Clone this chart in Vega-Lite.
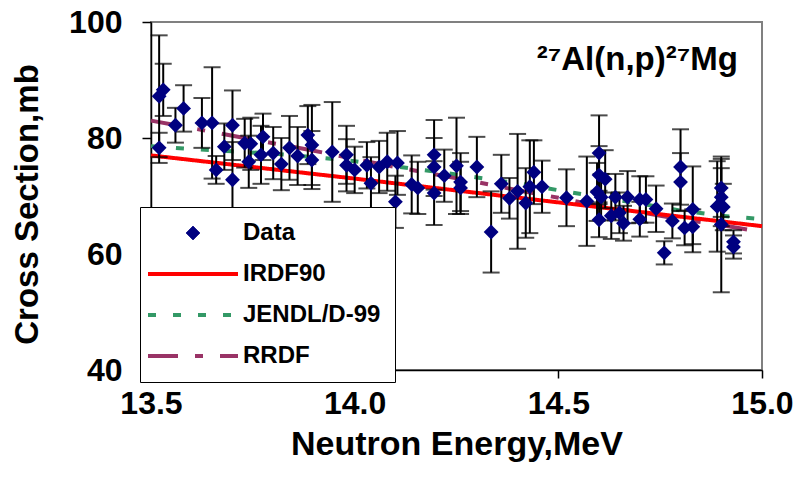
{
  "$schema": "https://vega.github.io/schema/vega-lite/v6.json",
  "width": 611,
  "height": 348,
  "autosize": {"type": "none"},
  "padding": {"left": 151, "top": 22, "right": 36, "bottom": 119},
  "background": "white",
  "title": {"text": "²⁷Al(n,p)²⁷Mg", "anchor": "end", "frame": "group", "orient": "top", "offset": -71, "dx": -24, "fontSize": 33, "font": "Liberation Sans", "fontWeight": "bold", "color": "black"},
  "datasets": {
    "points": [
      {"E":13.52,"xs":78.3,"err":2.6,"series":"Data"},{"E":13.52,"xs":87.2,"err":10.5,"series":"Data"},{"E":13.53,"xs":88.3,"err":4.5,"series":"Data"},{"E":13.56,"xs":82.2,"err":3.0,"series":"Data"},{"E":13.58,"xs":85.1,"err":4.0,"series":"Data"},{"E":13.625,"xs":82.6,"err":4.3,"series":"Data"},{"E":13.65,"xs":82.6,"err":9.6,"series":"Data"},{"E":13.66,"xs":74.5,"err":2.4,"series":"Data"},{"E":13.68,"xs":78.5,"err":4.0,"series":"Data"},{"E":13.70,"xs":82.2,"err":6.0,"series":"Data"},{"E":13.70,"xs":72.8,"err":6.5,"series":"Data"},{"E":13.73,"xs":79.1,"err":4.2,"series":"Data"},{"E":13.745,"xs":79.0,"err":4.5,"series":"Data"},{"E":13.74,"xs":75.9,"err":4.5,"series":"Data"},{"E":13.775,"xs":80.2,"err":4.0,"series":"Data"},{"E":13.77,"xs":77.1,"err":5.0,"series":"Data"},{"E":13.80,"xs":77.4,"err":4.5,"series":"Data"},{"E":13.82,"xs":75.5,"err":4.5,"series":"Data"},{"E":13.84,"xs":78.3,"err":5.5,"series":"Data"},{"E":13.86,"xs":76.9,"err":5.0,"series":"Data"},{"E":13.885,"xs":80.5,"err":5.0,"series":"Data"},{"E":13.895,"xs":78.8,"err":6.9,"series":"Data"},{"E":13.895,"xs":76.2,"err":5.0,"series":"Data"},{"E":13.945,"xs":77.6,"err":8.6,"series":"Data"},{"E":13.98,"xs":77.1,"err":5.0,"series":"Data"},{"E":13.98,"xs":75.3,"err":4.5,"series":"Data"},{"E":14.00,"xs":74.5,"err":4.0,"series":"Data"},{"E":14.03,"xs":75.3,"err":4.0,"series":"Data"},{"E":14.04,"xs":72.2,"err":4.5,"series":"Data"},{"E":14.06,"xs":75.0,"err":4.5,"series":"Data"},{"E":14.08,"xs":75.9,"err":5.0,"series":"Data"},{"E":14.105,"xs":75.7,"err":5.5,"series":"Data"},{"E":14.10,"xs":69.0,"err":4.5,"series":"Data"},{"E":14.14,"xs":72.0,"err":5.0,"series":"Data"},{"E":14.155,"xs":71.4,"err":4.5,"series":"Data"},{"E":14.195,"xs":77.1,"err":6.0,"series":"Data"},{"E":14.195,"xs":75.0,"err":5.0,"series":"Data"},{"E":14.22,"xs":73.5,"err":4.5,"series":"Data"},{"E":14.195,"xs":70.5,"err":5.5,"series":"Data"},{"E":14.25,"xs":75.2,"err":8.3,"series":"Data"},{"E":14.26,"xs":72.4,"err":5.0,"series":"Data"},{"E":14.26,"xs":71.4,"err":4.5,"series":"Data"},{"E":14.30,"xs":75.0,"err":5.2,"series":"Data"},{"E":14.335,"xs":63.8,"err":7.0,"series":"Data"},{"E":14.36,"xs":72.1,"err":5.0,"series":"Data"},{"E":14.38,"xs":69.6,"err":3.5,"series":"Data"},{"E":14.40,"xs":70.8,"err":9.9,"series":"Data"},{"E":14.42,"xs":68.8,"err":6.0,"series":"Data"},{"E":14.44,"xs":74.1,"err":5.5,"series":"Data"},{"E":14.43,"xs":71.6,"err":8.0,"series":"Data"},{"E":14.46,"xs":71.6,"err":4.5,"series":"Data"},{"E":14.52,"xs":69.7,"err":4.9,"series":"Data"},{"E":14.57,"xs":69.1,"err":7.7,"series":"Data"},{"E":14.60,"xs":77.4,"err":6.5,"series":"Data"},{"E":14.60,"xs":73.6,"err":5.0,"series":"Data"},{"E":14.595,"xs":70.7,"err":5.0,"series":"Data"},{"E":14.60,"xs":65.9,"err":3.0,"series":"Data"},{"E":14.615,"xs":72.9,"err":5.0,"series":"Data"},{"E":14.605,"xs":69.8,"err":4.0,"series":"Data"},{"E":14.63,"xs":66.6,"err":4.0,"series":"Data"},{"E":14.64,"xs":69.8,"err":4.0,"series":"Data"},{"E":14.65,"xs":67.1,"err":3.5,"series":"Data"},{"E":14.66,"xs":65.3,"err":3.0,"series":"Data"},{"E":14.67,"xs":69.8,"err":4.5,"series":"Data"},{"E":14.70,"xs":66.0,"err":3.0,"series":"Data"},{"E":14.70,"xs":69.4,"err":4.0,"series":"Data"},{"E":14.715,"xs":69.4,"err":4.0,"series":"Data"},{"E":14.74,"xs":67.8,"err":4.0,"series":"Data"},{"E":14.76,"xs":60.2,"err":2.0,"series":"Data"},{"E":14.78,"xs":65.7,"err":3.0,"series":"Data"},{"E":14.80,"xs":75.0,"err":6.5,"series":"Data"},{"E":14.80,"xs":72.4,"err":5.0,"series":"Data"},{"E":14.81,"xs":64.5,"err":3.0,"series":"Data"},{"E":14.83,"xs":67.7,"err":7.4,"series":"Data"},{"E":14.83,"xs":64.7,"err":3.0,"series":"Data"},{"E":14.90,"xs":71.4,"err":5.0,"series":"Data"},{"E":14.90,"xs":69.8,"err":5.0,"series":"Data"},{"E":14.89,"xs":68.2,"err":7.8,"series":"Data"},{"E":14.905,"xs":68.1,"err":4.0,"series":"Data"},{"E":14.90,"xs":65.1,"err":11.7,"series":"Data"},{"E":14.93,"xs":62.1,"err":2.0,"series":"Data"},{"E":14.93,"xs":61.2,"err":2.0,"series":"Data"}
    ],
    "curves": [
      {"E":13.5,"xs":78.6,"series":"JENDL/D-99"},{"E":13.6,"xs":78.1,"series":"JENDL/D-99"},{"E":13.7,"xs":77.7,"series":"JENDL/D-99"},{"E":13.8,"xs":77.3,"series":"JENDL/D-99"},{"E":13.9,"xs":76.7,"series":"JENDL/D-99"},{"E":14.0,"xs":76.0,"series":"JENDL/D-99"},{"E":14.1,"xs":75.1,"series":"JENDL/D-99"},{"E":14.2,"xs":74.2,"series":"JENDL/D-99"},{"E":14.3,"xs":73.2,"series":"JENDL/D-99"},{"E":14.4,"xs":72.2,"series":"JENDL/D-99"},{"E":14.5,"xs":71.0,"series":"JENDL/D-99"},{"E":14.6,"xs":69.8,"series":"JENDL/D-99"},{"E":14.7,"xs":68.7,"series":"JENDL/D-99"},{"E":14.8,"xs":67.5,"series":"JENDL/D-99"},{"E":14.9,"xs":66.6,"series":"JENDL/D-99"},{"E":15.0,"xs":66.0,"series":"JENDL/D-99"},
      {"E":13.5,"xs":83.0,"series":"RRDF"},{"E":13.6,"xs":81.7,"series":"RRDF"},{"E":13.7,"xs":80.4,"series":"RRDF"},{"E":13.8,"xs":79.1,"series":"RRDF"},{"E":13.9,"xs":77.8,"series":"RRDF"},{"E":14.0,"xs":76.4,"series":"RRDF"},{"E":14.1,"xs":75.0,"series":"RRDF"},{"E":14.2,"xs":73.7,"series":"RRDF"},{"E":14.3,"xs":72.4,"series":"RRDF"},{"E":14.4,"xs":71.0,"series":"RRDF"},{"E":14.5,"xs":69.7,"series":"RRDF"},{"E":14.6,"xs":68.3,"series":"RRDF"},{"E":14.7,"xs":67.2,"series":"RRDF"},{"E":14.8,"xs":66.0,"series":"RRDF"},{"E":14.9,"xs":65.0,"series":"RRDF"},{"E":14.98,"xs":64.0,"series":"RRDF"},
      {"E":13.5,"xs":77.0,"series":"IRDF90"},{"E":14.0,"xs":73.0,"series":"IRDF90"},{"E":14.5,"xs":68.9,"series":"IRDF90"},{"E":15.0,"xs":64.8,"series":"IRDF90"}
    ]
  },
  "layer": [
    {
      "data": {"name": "curves"},
      "mark": {"type": "line", "strokeWidth": 4, "strokeCap": "butt"},
      "encoding": {
        "x": {"field": "E", "type": "quantitative", "scale": {"domain": [13.5, 15.0], "nice": false, "zero": false}, "title": "Neutron Energy,MeV",
          "axis": {"values": [13.5, 14.0, 14.5, 15.0], "format": ".1f", "tickSize": 8, "labelPadding": 10, "titlePadding": 8, "labelFontSize": 32, "titleFontSize": 34, "labelFlush": false, "labelOverlap": false}},
        "y": {"field": "xs", "type": "quantitative", "scale": {"domain": [40, 100], "nice": false, "zero": false}, "title": "Cross Section,mb",
          "axis": {"values": [40, 60, 80, 100], "tickSize": 9, "labelPadding": 20, "titlePadding": 24, "labelFontSize": 32, "titleFontSize": 33, "titleY": 182}},
        "color": {"field": "series", "type": "nominal", "title": null,
          "scale": {"domain": ["Data", "IRDF90", "JENDL/D-99", "RRDF"], "range": ["#000080", "#ff0000", "#339966", "#993366"]},
          "legend": {
            "orient": "none", "legendX": -11, "legendY": 185,
            "fillColor": "white", "strokeColor": "black",
            "padding": 14, "rowPadding": 17, "labelOffset": 38, "symbolOffset": 27,
            "labelFont": "Liberation Sans", "labelFontSize": 24, "labelFontWeight": "bold", "labelColor": "black", "labelLimit": 300,
            "symbolSize": 8100, "symbolStrokeWidth": 4, "zindex": 5,
            "encode": {"symbols": {"update": {
              "shape": {"signal": "datum.label === 'Data' ? 'diamond' : 'stroke'"},
              "size": {"signal": "datum.label === 'Data' ? 190 : 8100"},
              "fill": {"signal": "datum.label === 'Data' ? '#000080' : 'transparent'"},
              "stroke": {"signal": "datum.label === 'Data' ? '#000080' : datum.label === 'IRDF90' ? '#ff0000' : datum.label === 'JENDL/D-99' ? '#339966' : '#993366'"},
              "strokeWidth": {"signal": "datum.label === 'Data' ? 1 : 4"},
              "strokeDash": {"signal": "datum.label === 'JENDL/D-99' ? [8,17] : datum.label === 'RRDF' ? [30,17,8,17] : [1,0]"},
              "opacity": {"value": 1}
            }}}
          }
        },
        "strokeDash": {"field": "series", "type": "nominal", "legend": null, "scale": {"domain": ["IRDF90", "JENDL/D-99", "RRDF"], "range": [[1, 0], [8, 17], [30, 17, 8, 17]]}}
      }
    },
    {
      "data": {"name": "points"},
      "mark": {"type": "errorbar", "ticks": true, "size": 17, "thickness": 2, "color": "black"},
      "encoding": {
        "x": {"field": "E", "type": "quantitative", "title": "Neutron Energy,MeV"},
        "y": {"field": "xs", "type": "quantitative", "title": "Cross Section,mb"},
        "yError": {"field": "err"}
      }
    },
    {
      "data": {"name": "points"},
      "mark": {"type": "point", "shape": "diamond", "filled": true, "size": 220, "opacity": 1},
      "encoding": {
        "x": {"field": "E", "type": "quantitative", "title": "Neutron Energy,MeV"},
        "y": {"field": "xs", "type": "quantitative", "title": "Cross Section,mb"},
        "color": {"field": "series", "type": "nominal", "title": null,
          "scale": {"domain": ["Data", "IRDF90", "JENDL/D-99", "RRDF"], "range": ["#000080", "#ff0000", "#339966", "#993366"]}}
      }
    }
  ],
  "config": {
    "view": {"stroke": "#808080", "strokeWidth": 2},
    "font": "Liberation Sans",
    "axis": {"grid": false, "domainColor": "black", "domainWidth": 1.5, "tickColor": "black", "tickWidth": 1.5, "labelColor": "black", "titleColor": "black", "labelFont": "Liberation Sans", "titleFont": "Liberation Sans", "labelFontWeight": "bold", "titleFontWeight": "bold", "zindex": 1}
  }
}
